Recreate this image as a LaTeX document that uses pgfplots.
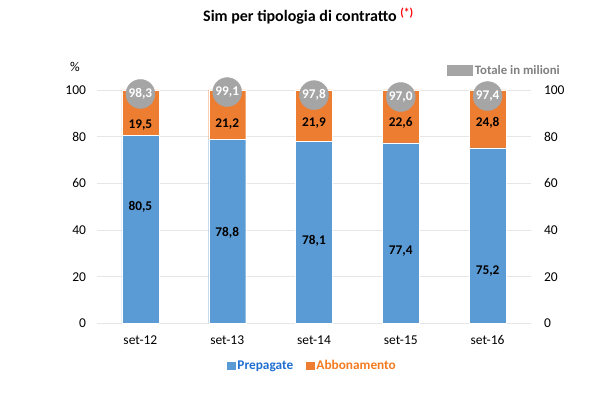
\documentclass[border=0pt]{standalone}
\usepackage{pgfplots}
\pgfplotsset{compat=1.18}
\usepackage{fontspec}
\setmainfont{Carlito}
\definecolor{cblue}{HTML}{5B9BD5}
\definecolor{corange}{HTML}{ED7D31}
\definecolor{cgray}{HTML}{A5A5A5}
\definecolor{cgrid}{HTML}{E6E6E6}
\definecolor{tblue}{HTML}{1F6FD0}
\definecolor{torange}{HTML}{F47B20}
\definecolor{tgray}{HTML}{808080}
\definecolor{tred}{HTML}{FF0000}
\begin{document}
\begin{tikzpicture}[x=1pt,y=1pt]
\path[use as bounding box] (0,0) rectangle (600,395);
\pgfplotsset{base/.style={
  at={(97pt,71.5pt)}, anchor=south west,
  scale only axis, width=434pt, height=233.5pt,
  xmin=-0.5, xmax=4.5, ymin=0, ymax=100,
  ytick={0,20,...,100}, major tick length=0pt,
  /pgf/number format/assume math mode=true,
  tick label style={font=\fontsize{13.5}{15}\selectfont, text=black},
  clip=false,
}}
\begin{axis}[base, ybar stacked, bar width=37pt,
  axis lines=left, axis line style={draw=none},
  ymajorgrids, grid style={draw=cgrid, line width=0.9pt},
  xtick={0,...,4}, xticklabels={set-12,set-13,set-14,set-15,set-16},
  yticklabel style={xshift=-7.5pt},
  xticklabel style={yshift=-8.5pt},
  legend columns=2,
  legend style={at={(0.497,-0.18)}, anchor=center, draw=none, fill=none,
    font=\bfseries\fontsize{13.3}{15}\selectfont,
    /tikz/every even column/.append style={column sep=11pt},
    nodes={inner sep=2.2pt}},
  ]
\addplot[fill=cblue, draw=white, line width=0.4pt,
  legend image code/.code={\fill[cblue] (0pt,-3.8pt) rectangle (7.5pt,3.8pt);}]
  coordinates {(0,80.5) (1,78.8) (2,78.1) (3,77.4) (4,75.2)};
\addlegendentry{\textcolor{tblue}{Prepagate}}
\addplot[fill=corange, draw=white, line width=0.4pt,
  legend image code/.code={\fill[corange] (0pt,-3.8pt) rectangle (7.5pt,3.8pt);}]
  coordinates {(0,19.5) (1,21.2) (2,21.9) (3,22.6) (4,24.8)};
\addlegendentry{\textcolor{torange}{Abbonamento}}
\end{axis}
\begin{axis}[base, axis x line=none, axis y line*=right, axis line style={draw=none},
  xtick=\empty, yticklabel style={xshift=9.5pt},
  legend style={at={(0.806,1.083)}, anchor=west, draw=none, fill=none, inner sep=0pt,
    font=\bfseries\fontsize{12.8}{14}\selectfont, text=tgray,
    nodes={inner sep=2.5pt}},
  ]
\addplot[draw=none, mark=none, forget plot, nodes near coords, point meta=explicit symbolic,
  nodes near coords style={anchor=center, text=black, font=\bfseries\fontsize{13.3}{15}\selectfont}]
  coordinates {(0,49.8)[80,5] (1,39)[78,8] (2,35.6)[78,1] (3,31)[77,4] (4,22.4)[75,2]};
\addplot[draw=none, mark=none, forget plot, nodes near coords, point meta=explicit symbolic,
  nodes near coords style={anchor=center, text=black, font=\bfseries\fontsize{13.3}{15}\selectfont}]
  coordinates {(0,84.8)[19,5] (1,85.4)[21,2] (2,86)[21,9] (3,86)[22,6] (4,86)[24,8]};
\addplot[only marks, color=cgray, mark=*, mark size=14.5pt, mark options={fill=cgray, draw=cgray},
  nodes near coords, point meta=explicit symbolic,
  nodes near coords style={anchor=center, text=white, font=\bfseries\fontsize{13.3}{15}\selectfont},
  legend image code/.code={\fill[cgray] (0pt,-5pt) rectangle (25pt,5pt);}]
  coordinates {(0,98.3)[98,3] (1,99.1)[99,1] (2,97.8)[97,8] (3,97.0)[97,0] (4,97.4)[97,4]};
\addlegendentry{Totale in milioni}
\end{axis}
\node[font=\fontsize{13.5}{15}\selectfont] at (75,328) {\%};
\node[anchor=west, inner sep=0pt, font=\bfseries\fontsize{16}{19}\selectfont] at (203,379)
  {Sim per tipologia di contratto \raisebox{4.5pt}{\textcolor{tred}{\fontsize{11.5}{13}\selectfont(*)}}};
\end{tikzpicture}
\end{document}
